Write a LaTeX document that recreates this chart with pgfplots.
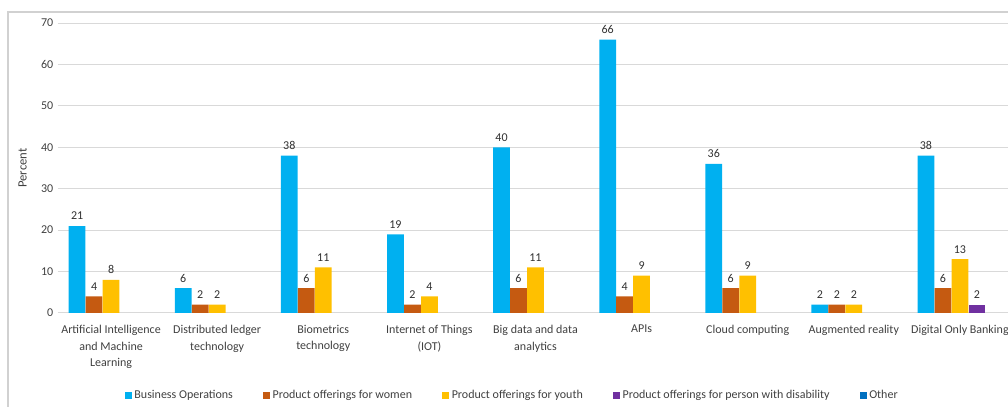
\documentclass[border=0pt]{standalone}
\usepackage{pgfplots}
\pgfplotsset{compat=1.18}
\usepackage{fontspec}
\setmainfont{Carlito}
\definecolor{cBlue}{HTML}{00B0F0}
\definecolor{cOrange}{HTML}{C55A11}
\definecolor{cYellow}{HTML}{FFC000}
\definecolor{cPurple}{HTML}{7030A0}
\definecolor{cOther}{HTML}{0070C0}
\definecolor{txt}{HTML}{404040}
\definecolor{vtxt}{HTML}{303030}
\definecolor{gridc}{HTML}{D9D9D9}
\pgfplotsset{sqlegend/.style={legend image code/.code={\draw[##1,draw=none] (0pt,-2.6pt) rectangle (5.25pt,2.6pt);}}}
\begin{document}
\begin{tikzpicture}
\useasboundingbox (0,0) rectangle (756pt,305.25pt);
\clip (0,0) rectangle (756pt,305.25pt);
\draw[black!18, line width=1.2pt] (6pt,-5pt) -- (6pt,296.25pt) -- (770pt,296.25pt);
\begin{axis}[
  at={(43.5pt,70.5pt)}, anchor=south west,
  scale only axis, width=716.25pt, height=217.5pt,
  xmin=-0.5, xmax=8.5, ymin=0, ymax=70,
  ytick={0,10,...,70},
  xtick={0,...,8},
  xticklabels={{Artificial Intelligence\\and Machine\\Learning},{Distributed ledger\\technology},{Biometrics\\technology},{Internet of Things\\(IOT)},{Big data and data\\analytics},{APIs},{Cloud computing},{Augmented reality},{Digital Only Banking}},
  xticklabel style={align=center, font=\fontsize{9}{12.5}\selectfont, text=txt, yshift=-5.5pt},
  yticklabel style={font=\fontsize{9}{11}\selectfont, text=txt},
  /pgf/number format/assume math mode=true,
  major tick length=0pt,
  axis line style={draw=none},
  ymajorgrids, major grid style={gridc, line width=0.75pt},
  ylabel={Percent},
  ylabel shift=4pt,
  ylabel style={font=\fontsize{9.5}{11}\selectfont, text=txt},
  ybar, bar width=0.158,
  every axis plot post/.append style={sqlegend},
  nodes near coords,
  every node near coord/.append style={font=\fontsize{9}{11}\selectfont, text=vtxt, yshift=1pt},
  legend columns=5,
  legend cell align=left,
  legend style={at={(0.476,-0.283)}, anchor=center, draw=none, fill=none,
    font=\fontsize{9}{11}\selectfont, text=txt,
    /tikz/every even column/.append style={column sep=20.5pt}},
]
\addplot[fill=cBlue, draw=none, bar shift=-0.32] coordinates {(0,21) (1,6) (2,38) (3,19) (4,40) (5,66) (6,36) (7,2) (8,38)};
\addlegendentry{Business Operations}
\addplot[fill=cOrange, draw=none, bar shift=-0.16] coordinates {(0,4) (1,2) (2,6) (3,2) (4,6) (5,4) (6,6) (7,2) (8,6)};
\addlegendentry{Product offerings for women}
\addplot[fill=cYellow, draw=none, bar shift=0] coordinates {(0,8) (1,2) (2,11) (3,4) (4,11) (5,9) (6,9) (7,2) (8,13)};
\addlegendentry{Product offerings for youth}
\addplot[fill=cPurple, draw=none, bar shift=0.16] coordinates {(8,2)};
\addlegendentry{Product offerings for person with disability}
\addlegendimage{fill=cOther, draw=none, sqlegend}
\addlegendentry{Other}
\end{axis}
\end{tikzpicture}
\end{document}
